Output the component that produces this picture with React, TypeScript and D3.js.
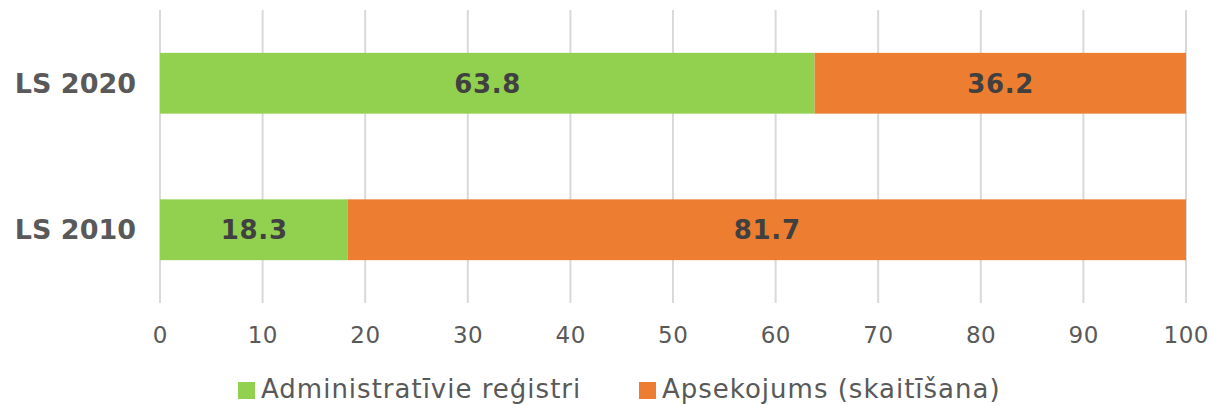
import React from "react";
import * as d3 from "d3";

const categories = ["LS 2020", "LS 2010"];
const adminValues = [63.8, 18.3];
const surveyValues = [36.2, 81.7];
const seriesNames = ["Administratīvie reģistri", "Apsekojums (skaitīšana)"];
const seriesColors = ["#92D050", "#ED7D31"];
const xTicks = [0, 10, 20, 30, 40, 50, 60, 70, 80, 90, 100];

const W = 1212;
const H = 405;
const FONT = "'DejaVu Sans', Verdana, sans-serif";

export default function App() {
  const x = d3.scaleLinear().domain([0, 100]).range([160, 1186]);
  const y = d3.scaleBand().domain(categories).range([10, 303]).paddingInner(0.585).paddingOuter(0.2925);
  const stackData = categories.map((c, i) => ({ cat: c, a: adminValues[i], b: surveyValues[i] }));
  const stack = d3.stack<any>().keys(["a", "b"])(stackData);
  const legendX = [238, 639];

  return (
    <svg width={W} height={H} style={{ position: "absolute", left: 0, top: 0, background: "#fff" }}>
      {xTicks.map((t) => (
        <line key={t} x1={x(t)} x2={x(t)} y1={10} y2={303} stroke="#D9D9D9" strokeWidth={2} />
      ))}
      {stack.map((s, si) => (
        <g key={si}>
          {s.map((d: any, i: number) => {
            const cat = categories[i];
            const by = y(cat)!;
            const bw = y.bandwidth();
            const x0 = x(d[0]);
            const x1 = x(d[1]);
            const v = d[1] - d[0];
            return (
              <g key={i}>
                <rect x={x0} y={by} width={x1 - x0} height={bw} fill={seriesColors[si]} />
                <text
                  x={(x0 + x1) / 2 + 0.35}
                  y={by + bw / 2}
                  dy="0.36em"
                  textAnchor="middle"
                  fontFamily={FONT}
                  fontWeight="bold"
                  fontSize={26}
                  letterSpacing={0.7}
                  fill="#404040"
                >
                  {v.toFixed(1)}
                </text>
              </g>
            );
          })}
        </g>
      ))}
      {categories.map((c) => (
        <text
          key={c}
          x={136}
          y={y(c)! + y.bandwidth() / 2}
          dy="0.36em"
          textAnchor="end"
          fontFamily={FONT}
          fontWeight="bold"
          fontSize={27}
          fill="#595959"
        >
          {c}
        </text>
      ))}
      {xTicks.map((t) => (
        <text key={t} x={x(t) + 0.25} y={343} textAnchor="middle" fontFamily={FONT} fontSize={23} letterSpacing={0.5} fill="#595959">
          {t}
        </text>
      ))}
      {seriesNames.map((n, i) => {
        const lx = legendX[i];
        return (
          <g key={n}>
            <rect x={lx} y={382} width={17} height={17} fill={seriesColors[i]} />
            <text x={lx + 23} y={398} fontFamily={FONT} fontSize={26} letterSpacing={1} fill="#595959">
              {n}
            </text>
          </g>
        );
      })}
    </svg>
  );
}
